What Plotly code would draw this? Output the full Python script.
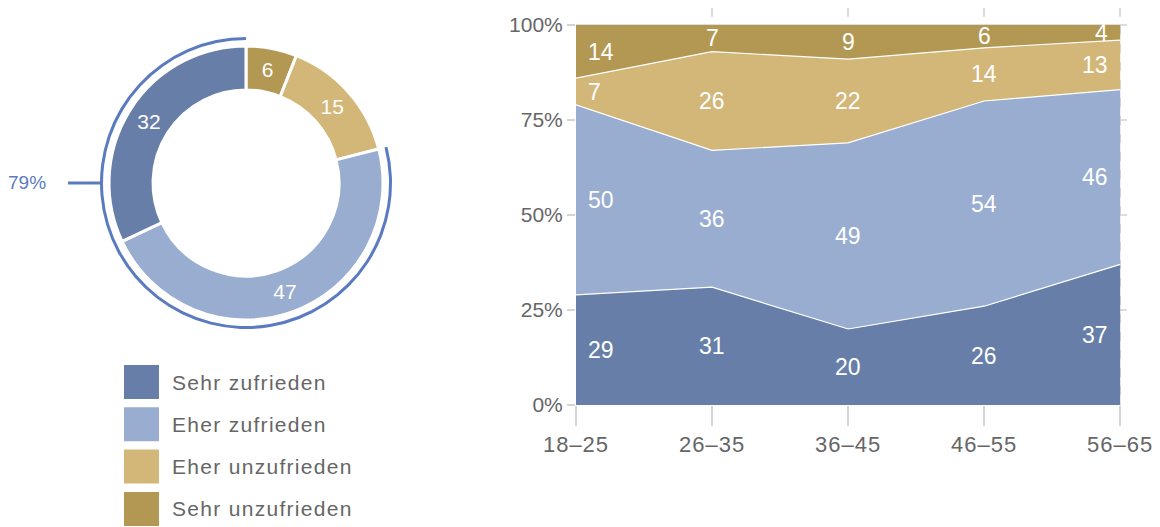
import plotly.graph_objects as go

# Seite hat 8px Body-Rand -> Figur etwas kleiner, Koordinaten verschoben
OFF = 8
W, H = 1160 - OFF, 527 - OFF

# Daten
kategorien = ["Sehr zufrieden", "Eher zufrieden", "Eher unzufrieden", "Sehr unzufrieden"]
farben = ["#677fa8", "#98add0", "#d3b778", "#b39853"]
gesamt = [32, 47, 15, 6]

altersgruppen = ["18–25", "26–35", "36–45", "46–55", "56–65"]
sehr_zufrieden = [29, 31, 20, 26, 37]
eher_zufrieden = [50, 36, 49, 54, 46]
eher_unzufrieden = [7, 26, 22, 14, 13]
sehr_unzufrieden = [14, 7, 9, 6, 4]

y_ticks = [0, 25, 50, 75, 100]

GRAU = "#666666"
ARC_BLAU = "#5a7bbf"
FONT = "Helvetica Neue, Liberation Sans, Arial, sans-serif"


def px_x(x):
    return (x - OFF) / W


def px_y(y):
    return 1 - (y - OFF) / H


def gesperrt(t, ls=1.2):
    return f'<span style="letter-spacing:{ls}px">{t}</span>'


fig = go.Figure()

# Donut (Pixelgeometrie)
cx, cy, r_out, r_in, r_arc = 246, 183, 137, 93, 146
fig.add_trace(go.Pie(
    values=gesamt[::-1],
    labels=kategorien[::-1],
    marker=dict(colors=farben[::-1], line=dict(color="white", width=3)),
    hole=r_in / r_out,
    sort=False,
    direction="clockwise",
    rotation=0,
    textinfo="value",
    textposition="inside",
    insidetextorientation="horizontal",
    textfont=dict(color="white", size=21, family=FONT),
    domain=dict(x=[px_x(cx - r_out), px_x(cx + r_out)], y=[px_y(cy + r_out), px_y(cy - r_out)]),
    showlegend=False,
    hoverinfo="skip",
))

# Bogen um "zufrieden"
zufrieden = gesamt[0] + gesamt[1]
fig.add_trace(go.Pie(
    values=[100 - zufrieden, zufrieden],
    marker=dict(colors=["rgba(0,0,0,0)", ARC_BLAU], line=dict(width=0)),
    hole=(r_arc - 3) / r_arc,
    sort=False,
    direction="clockwise",
    rotation=0,
    textinfo="none",
    domain=dict(x=[px_x(cx - r_arc), px_x(cx + r_arc)], y=[px_y(cy + r_arc), px_y(cy - r_arc)]),
    showlegend=False,
    hoverinfo="skip",
))

fig.add_shape(type="line", xref="paper", yref="paper",
              x0=px_x(cx - r_arc - 32), x1=px_x(cx - r_arc), y0=px_y(cy), y1=px_y(cy),
              line=dict(color=ARC_BLAU, width=3))
fig.add_annotation(xref="paper", yref="paper", x=px_x(cx - r_arc - 52), y=px_y(cy),
                   xanchor="right", yanchor="middle", showarrow=False,
                   text=f"{zufrieden}%", font=dict(color=ARC_BLAU, size=19, family=FONT))

# Legende
for i, (kat, farbe) in enumerate(zip(kategorien, farben)):
    top = 365 + 42.3 * i
    fig.add_shape(type="rect", xref="paper", yref="paper",
                  x0=px_x(124), x1=px_x(159), y0=px_y(top + 34), y1=px_y(top),
                  fillcolor=farbe, line=dict(width=0))
    fig.add_annotation(xref="paper", yref="paper", x=px_x(170), y=px_y(top + 17),
                       xanchor="left", yanchor="middle", showarrow=False,
                       text=gesperrt(kat, 1.3), font=dict(color=GRAU, size=21, family=FONT))

# Gestapelte Flächen
serien = [sehr_zufrieden, eher_zufrieden, eher_unzufrieden, sehr_unzufrieden]
basis = [0] * len(altersgruppen)
letzte = len(altersgruppen) - 1
for i, (kat, farbe, werte) in enumerate(zip(kategorien, farben, serien)):
    fig.add_trace(go.Scatter(
        x=altersgruppen, y=werte, name=kat,
        stackgroup="a", mode="lines",
        line=dict(color="white", width=1.2 if i < len(serien) - 1 else 0),
        fillcolor=farbe,
        showlegend=False, hoverinfo="skip",
    ))
    for j, (gruppe, b, w) in enumerate(zip(altersgruppen, basis, werte)):
        if j == 0:
            anker, shift = "left", 10
        elif j == letzte:
            anker, shift = "right", -10
        else:
            anker, shift = "center", 0
        fig.add_annotation(x=gruppe, y=b + w / 2, xref="x", yref="y",
                           text=str(w), showarrow=False,
                           xanchor=anker, xshift=shift, yanchor="middle",
                           font=dict(color="white", size=23, family=FONT))
    basis = [b + w for b, w in zip(basis, werte)]

plot_top, plot_bottom = OFF, 405
fig.update_layout(
    width=W, height=H,
    margin=dict(l=0, r=0, t=0, b=0),
    paper_bgcolor="white", plot_bgcolor="white",
    font=dict(family=FONT, color=GRAU),
    hovermode=False,
    xaxis=dict(
        domain=[px_x(576), px_x(1127)],
        type="category",
        range=[0, 4.05],
        tickvals=altersgruppen,
        ticktext=[gesperrt(g, 1.0) for g in altersgruppen],
        showgrid=True, griddash="dash", gridcolor="rgba(215,215,215,0.9)", gridwidth=1.5,
        layer="above traces",
        ticks="outside", ticklen=20, tickcolor="#d5d5d5", tickwidth=1.5,
        tickfont=dict(size=22, color=GRAU, family=FONT),
        showline=False, zeroline=False, automargin=False,
    ),
    yaxis=dict(
        domain=[px_y(plot_bottom), px_y(plot_top)],
        range=[0, 100 * (plot_bottom - plot_top) / 380],
        tickvals=y_ticks,
        ticktext=[f"{v}%" for v in y_ticks],
        showgrid=True, gridcolor="#dddddd", gridwidth=1.5,
        ticks="outside", ticklen=8, tickcolor="#d5d5d5", tickwidth=1.5,
        tickfont=dict(size=21, color=GRAU, family=FONT),
        showline=False, zeroline=False, automargin=False,
    ),
)

fig.write_html("out.html")
